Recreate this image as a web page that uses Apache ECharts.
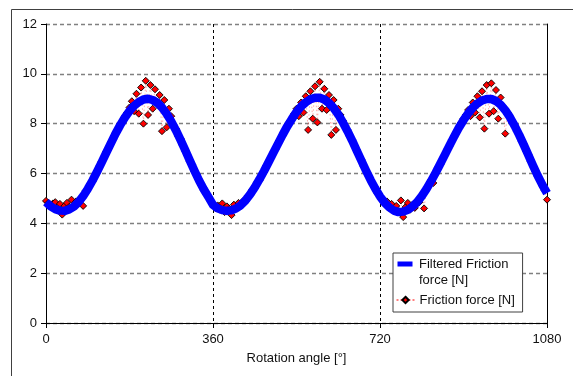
<!DOCTYPE html>
<html><head><meta charset="utf-8">
<script src="https://cdn.jsdelivr.net/npm/echarts@6/dist/echarts.min.js"></script>
<style>html,body{margin:0;padding:0;background:#fff}#c{width:573px;height:376px}</style>
</head><body><div id="c"></div>
<script>
// ---- data ----
const xTickValues = [0, 360, 720, 1080];
const yTickValues = [0, 2, 4, 6, 8, 10, 12];
const seriesNames = ['Filtered Friction\nforce [N]', 'Friction force [N]'];
const axisTitle = 'Rotation angle [°]';

// filtered friction force, sampled every 10 deg from 0 to 1080
const filteredStep = 10;
const filteredValues = [
  4.85, 4.68, 4.57, 4.51, 4.50, 4.56, 4.67, 4.85, 5.09, 5.38,
  5.71, 6.07, 6.45, 6.84, 7.22, 7.60, 7.94, 8.25, 8.51, 8.72,
  8.87, 8.97, 9.00, 8.95, 8.84, 8.65, 8.40, 8.09, 7.74, 7.35,
  6.94, 6.52, 6.11, 5.72, 5.37, 5.06, 4.74, 4.60, 4.53, 4.50,
  4.52, 4.60, 4.73, 4.92, 5.16, 5.44, 5.76, 6.10, 6.46, 6.83,
  7.19, 7.55, 7.89, 8.19, 8.47, 8.69, 8.86, 8.98, 9.04, 9.04,
  8.97, 8.83, 8.63, 8.37, 8.05, 7.70, 7.32, 6.91, 6.51, 6.11,
  5.73, 5.39, 5.08, 4.83, 4.64, 4.51, 4.45, 4.47, 4.54, 4.67,
  4.85, 5.09, 5.37, 5.69, 6.03, 6.39, 6.76, 7.13, 7.49, 7.84,
  8.14, 8.41, 8.64, 8.81, 8.93, 8.99, 8.99, 8.91, 8.76, 8.54,
  8.26, 7.92, 7.55, 7.15, 6.73, 6.31, 5.91, 5.54, 5.21
];

// raw friction force, sampled every 5 deg from 0 to 1080
const rawStep = 5;
const rawValues = [
  4.90, 4.82, 4.72, 4.80, 4.85, 4.62, 4.78, 4.35, 4.70, 4.82, 4.66, 4.95,
  4.72, 4.88, 4.80, 5.02, 4.70, 5.30, 5.35, 5.60, 5.68, 5.93, 6.03, 6.30,
  6.48, 6.60, 6.88, 7.00, 7.26, 7.38, 7.63, 7.74, 7.98, 8.05, 8.30, 8.45,
  8.65, 8.90, 8.50, 9.20, 8.40, 9.45, 8.00, 9.72, 8.35, 9.55, 8.60, 9.38,
  8.78, 9.15, 7.70, 8.95, 7.85, 8.60, 8.30, 7.95, 7.80, 7.50, 7.40, 7.12,
  6.90, 6.78, 6.48, 6.35, 6.08, 5.95, 5.70, 5.58, 5.33, 5.18, 5.02, 4.86,
  4.78, 4.62, 4.72, 4.55, 4.80, 4.45, 4.68, 4.58, 4.33, 4.75, 4.62, 4.82,
  4.70, 4.90, 4.88, 5.10, 5.12, 5.36, 5.40, 5.65, 5.72, 5.96, 6.06, 6.32,
  6.50, 6.62, 6.86, 6.98, 7.22, 7.35, 7.58, 7.70, 7.92, 8.10, 8.15, 8.40,
  8.60, 8.30, 8.85, 8.45, 9.10, 7.75, 9.30, 8.20, 9.50, 8.05, 9.68, 8.60,
  9.40, 8.55, 9.15, 7.55, 8.95, 7.75, 8.60, 8.35, 8.12, 7.92, 7.75, 7.48,
  7.35, 7.10, 6.95, 6.68, 6.55, 6.28, 6.14, 5.90, 5.75, 5.52, 5.42, 5.20,
  5.05, 4.98, 4.80, 4.88, 4.62, 4.78, 4.55, 4.70, 4.48, 4.92, 4.25, 4.65,
  4.82, 4.55, 4.75, 4.62, 4.90, 4.85, 5.12, 4.60, 5.40, 5.50, 5.72, 5.62,
  6.00, 6.25, 6.36, 6.62, 6.73, 6.98, 7.10, 7.35, 7.46, 7.70, 7.82, 8.05,
  8.20, 8.35, 8.55, 8.30, 8.85, 8.45, 9.10, 8.25, 9.30, 7.80, 9.55, 8.40,
  9.62, 8.50, 9.35, 8.20, 9.05, 8.70, 7.60, 8.45, 8.30, 8.05, 7.96, 7.70,
  7.58, 7.30, 7.18, 6.90, 6.75, 6.48, 6.34, 6.08, 5.88, 5.75, 5.50, 5.32,
  4.95
];

// ---- build ----
const filteredData = filteredValues.map((v, i) => [i * filteredStep, v]);
const rawData = rawValues.map((v, i) => [i * rawStep, v]);
const xMin = xTickValues[0], xMax = xTickValues[xTickValues.length - 1];
const xInt = xTickValues[1] - xTickValues[0];
const yMin = yTickValues[0], yMax = yTickValues[yTickValues.length - 1];
const yInt = yTickValues[1] - yTickValues[0];
const FONT = '"Liberation Sans", Arial, sans-serif';

const chart = echarts.init(document.getElementById('c'), null, {renderer: 'canvas'});
chart.setOption({
  animation: false,
  backgroundColor: '#ffffff',
  textStyle: {fontFamily: FONT},
  grid: {left: 46, right: 26, top: 24, bottom: 53, containLabel: false},
  graphic: [{
    type: 'rect', silent: true, z: -10,
    shape: {x: 11.5, y: 9.5, width: 620, height: 420},
    style: {fill: 'none', stroke: '#404040', lineWidth: 1}
  }],
  xAxis: {
    type: 'value', min: xMin, max: xMax, interval: xInt,
    name: axisTitle, nameLocation: 'middle', nameGap: 29,
    nameTextStyle: {fontSize: 13, color: '#111', fontFamily: FONT},
    axisLine: {show: true, lineStyle: {color: '#000', width: 1}},
    axisTick: {show: true, length: 5, lineStyle: {color: '#000'}},
    axisLabel: {fontSize: 13, color: '#111', margin: 10, fontFamily: FONT,
      formatter: v => String(v)},
    splitLine: {show: true, lineStyle: {color: '#000', type: [3, 3], width: 1}}
  },
  yAxis: [{
    type: 'value', min: yMin, max: yMax, interval: yInt,
    axisLine: {show: true, lineStyle: {color: '#000', width: 1}},
    axisTick: {show: true, length: 5, lineStyle: {color: '#000'}},
    axisLabel: {fontSize: 13, color: '#111', margin: 9, fontFamily: FONT,
      formatter: v => String(v)},
    splitLine: {show: true, lineStyle: {color: '#808080', type: [4, 3], width: 1.3}}
  }, {
    type: 'value', min: yMin, max: yMax, interval: yInt, position: 'right',
    axisLine: {show: true, lineStyle: {color: '#000', width: 1}},
    axisTick: {show: false}, axisLabel: {show: false}, splitLine: {show: false}
  }],
  legend: [{
    orient: 'vertical', left: 393, top: 253,
    padding: [3, 14, 24, 3], itemGap: 0, itemWidth: 18, itemHeight: 24,
    backgroundColor: '#ffffff', borderColor: '#404040', borderWidth: 1, borderRadius: 0,
    textStyle: {fontSize: 13, color: '#111', lineHeight: 16, fontFamily: FONT},
    data: [{
      name: seriesNames[0],
      icon: 'path://M0,0L0.01,0M1.5,1.5L16.5,1.5L16.5,6.5L1.5,6.5ZM18,24L17.99,24',
      itemStyle: {color: '#0000ff', borderWidth: 0}
    }]
  }, {
    orient: 'vertical', left: 396, top: 292, z: 10,
    padding: 0, itemWidth: 18, itemHeight: 8,
    textStyle: {fontSize: 13, color: '#111', lineHeight: 16, fontFamily: FONT},
    data: [{name: seriesNames[1], lineStyle: {color: '#ff0000', width: 1, type: [2, 2], opacity: 1}}]
  }],
  series: [{
    name: seriesNames[1], type: 'line', data: rawData, z: 2,
    symbol: 'diamond', symbolSize: 7, showSymbol: true, showAllSymbol: true,
    itemStyle: {color: '#ff0000', borderColor: '#000', borderWidth: 0.9},
    lineStyle: {color: '#ff5050', width: 0.6, type: [1.5, 2.5], opacity: 0.8},
    emphasis: {disabled: true}
  }, {
    name: seriesNames[0], type: 'line', data: filteredData, z: 3,
    symbol: 'none', showSymbol: false,
    itemStyle: {color: '#0000ff'},
    lineStyle: {color: '#0000ff', width: 8.5, cap: 'butt', join: 'round'},
    emphasis: {disabled: true}
  }]
});
</script></body></html>
